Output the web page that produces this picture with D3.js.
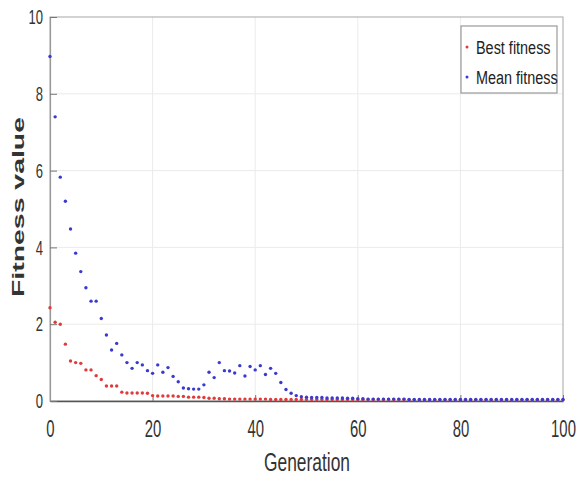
<!DOCTYPE html>
<html lang="en">
<head>
    <meta charset="UTF-8">
    <title>Fitness value</title>
    <script src="https://d3js.org/d3.v7.min.js"></script>
    <style>
        body { margin: 0; background: white; }
        text { font-family: 'Liberation Sans', Arial, sans-serif; fill: #222; }
        .grid line { stroke: #ebebeb; stroke-width: 1; }
    </style>
</head>
<body>
<script>
    const width = 577;
    const height = 485;

    // generation index 0..100
    const generations = [
        0,1,2,3,4,5,6,7,8,9,10,11,12,13,14,15,16,17,18,19,
        20,21,22,23,24,25,26,27,28,29,30,31,32,33,34,35,36,37,38,39,
        40,41,42,43,44,45,46,47,48,49,50,51,52,53,54,55,56,57,58,59,
        60,61,62,63,64,65,66,67,68,69,70,71,72,73,74,75,76,77,78,79,
        80,81,82,83,84,85,86,87,88,89,90,91,92,93,94,95,96,97,98,99,100
    ];

    const bestFitness = [
        2.43,2.05,2.0,1.48,1.04,1.0,0.98,0.81,0.81,0.66,
        0.56,0.39,0.39,0.39,0.23,0.21,0.21,0.21,0.21,0.2,
        0.14,0.13,0.13,0.13,0.13,0.12,0.12,0.1,0.1,0.1,
        0.09,0.07,0.07,0.06,0.06,0.05,0.05,0.05,0.05,0.05,
        0.05,0.05,0.05,0.04,0.04,0.04,0.04,0.04,0.04,0.04,
        0.04,0.04,0.04,0.04,0.04,0.04,0.04,0.04,0.04,0.04,
        0.04,0.04,0.04,0.04,0.04,0.04,0.04,0.04,0.04,0.04,
        0.03,0.03,0.03,0.03,0.03,0.03,0.03,0.03,0.03,0.03,
        0.03,0.03,0.03,0.03,0.03,0.03,0.03,0.03,0.03,0.03,
        0.03,0.03,0.03,0.03,0.03,0.03,0.03,0.03,0.03,0.03,0.03
    ];

    const meanFitness = [
        8.97,7.4,5.83,5.2,4.48,3.85,3.37,2.95,2.6,2.6,
        2.15,1.72,1.33,1.5,1.2,1.0,0.85,1.0,0.94,0.79,
        0.72,0.94,0.75,0.87,0.64,0.5,0.34,0.32,0.31,0.31,
        0.42,0.75,0.61,1.0,0.79,0.78,0.73,0.92,0.65,0.9,
        0.81,0.92,0.69,0.85,0.72,0.48,0.3,0.2,0.14,0.11,
        0.1,0.09,0.09,0.09,0.08,0.08,0.08,0.08,0.07,0.07,
        0.06,0.06,0.05,0.05,0.05,0.05,0.05,0.05,0.05,0.05,
        0.04,0.04,0.04,0.04,0.04,0.04,0.04,0.04,0.04,0.04,
        0.04,0.04,0.04,0.04,0.04,0.04,0.04,0.04,0.04,0.04,
        0.04,0.04,0.04,0.04,0.04,0.04,0.04,0.04,0.04,0.04,0.04
    ];

    const xTicks = [0, 20, 40, 60, 80, 100];
    const yTicks = [0, 2, 4, 6, 8, 10];
    const seriesNames = ['Best fitness', 'Mean fitness'];
    const seriesColors = ['#e23a3a', '#3a3ad0'];

    const plotLeft = 50, plotRight = 563, plotTop = 17, plotBottom = 401;

    const x = d3.scaleLinear().domain([0, 100]).range([plotLeft, plotRight]);
    const y = d3.scaleLinear().domain([0, 10]).range([plotBottom, plotTop]);

    const svg = d3.select('body').append('svg').attr('width', width).attr('height', height);

    // grid
    svg.append('g').attr('class', 'grid')
        .selectAll('line').data(xTicks.slice(1, -1)).enter().append('line')
        .attr('x1', d => x(d)).attr('x2', d => x(d)).attr('y1', plotTop).attr('y2', plotBottom);
    svg.append('g').attr('class', 'grid')
        .selectAll('line').data(yTicks.slice(1, -1)).enter().append('line')
        .attr('x1', plotLeft).attr('x2', plotRight).attr('y1', d => y(d)).attr('y2', d => y(d));

    // box
    svg.append('rect').attr('x', plotLeft).attr('y', plotTop)
        .attr('width', plotRight - plotLeft).attr('height', plotBottom - plotTop)
        .style('fill', 'none').style('stroke', '#b5b5b5').style('stroke-width', 1.2);

    // narrow the glyphs horizontally, like the stretched original
    function squeeze(sel, sx) {
        sel.each(function() {
            const t = d3.select(this);
            t.attr('transform', `scale(${sx},1)`).attr('x', (+t.attr('x') || 0) / sx);
        });
    }

    const xAxis = svg.append('g').attr('transform', `translate(0,${plotBottom})`)
        .call(d3.axisBottom(x).tickValues(xTicks).tickSize(-6).tickPadding(19).tickSizeOuter(0));
    xAxis.select('.domain').style('stroke', '#555').style('stroke-width', 1.4);
    xAxis.selectAll('.tick line').style('stroke', '#777');
    xAxis.selectAll('text').style('font-size', '24px').style('fill', '#333');
    squeeze(xAxis.selectAll('text'), 0.62);

    const yAxis = svg.append('g').attr('transform', `translate(${plotLeft},0)`)
        .call(d3.axisLeft(y).tickValues(yTicks).tickSize(-7).tickPadding(7).tickSizeOuter(0));
    yAxis.select('.domain').style('stroke', '#999').style('stroke-width', 1.2);
    yAxis.selectAll('.tick line').style('stroke', '#777');
    yAxis.selectAll('text').style('font-size', '21px').style('fill', '#333');
    squeeze(yAxis.selectAll('text'), 0.62);

    // points
    [bestFitness, meanFitness].forEach((series, s) => {
        svg.append('g').selectAll('circle')
            .data(series).enter().append('circle')
            .attr('cx', (d, i) => x(generations[i]))
            .attr('cy', d => y(d))
            .attr('r', 1.7)
            .style('fill', seriesColors[s]);
    });

    // axis titles
    svg.append('text').text('Generation')
        .attr('x', 264).attr('y', 471)
        .attr('textLength', 86).attr('lengthAdjust', 'spacingAndGlyphs')
        .style('font-size', '25px').style('fill', '#333');

    svg.append('text').text('Fitness value')
        .attr('transform', 'translate(24,297) rotate(-90)')
        .attr('textLength', 180).attr('lengthAdjust', 'spacingAndGlyphs')
        .style('font-size', '16px').style('font-weight', 'bold').style('fill', '#333');

    // legend
    const legend = svg.append('g');
    legend.append('rect').attr('x', 461).attr('y', 26).attr('width', 96).attr('height', 67)
        .style('fill', 'white').style('stroke', '#999').style('stroke-width', 1.2);
    seriesNames.forEach((name, i) => {
        const cy = 47 + i * 30;
        legend.append('circle').attr('cx', 467).attr('cy', cy).attr('r', 1.5).style('fill', seriesColors[i]);
        const t = legend.append('text').text(name)
            .attr('x', 476).attr('y', cy + 7)
            .style('font-size', '19px').style('fill', '#222');
        squeeze(t, 0.76);
    });
</script>
</body>
</html>
